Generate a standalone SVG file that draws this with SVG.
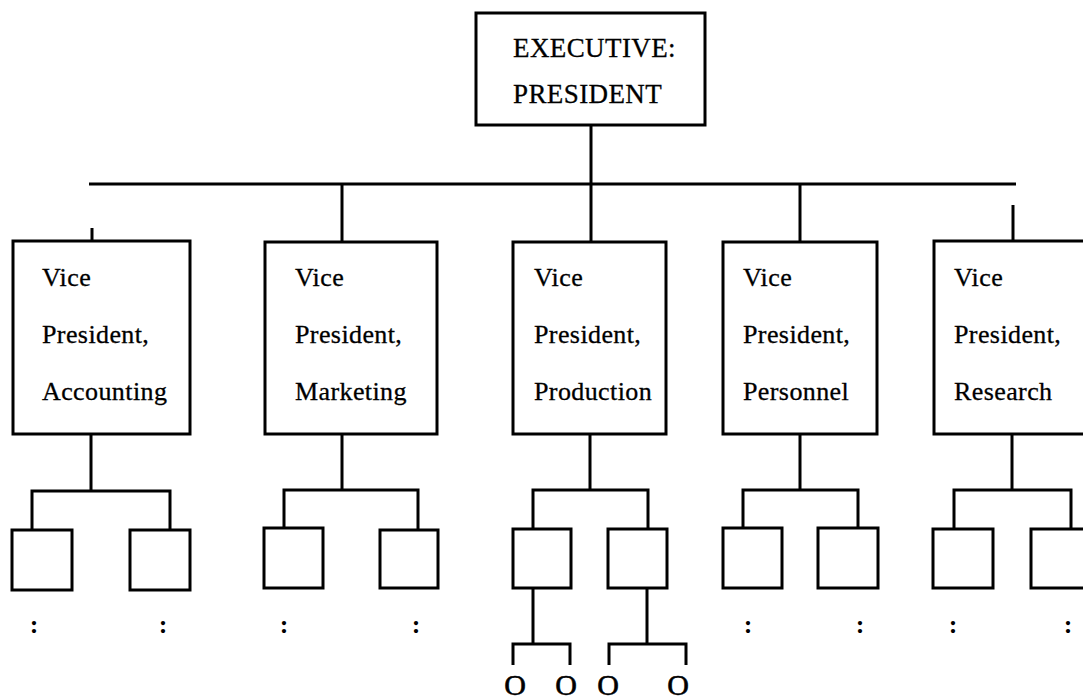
<svg xmlns="http://www.w3.org/2000/svg" width="1083" height="699" viewBox="0 0 1083 699">
  <style>
    .box { fill: #ffffff; stroke: #000000; stroke-width: 3; }
    .line { fill: none; stroke: #000000; stroke-width: 3; }
    .label { font-family: "Liberation Serif", "Times New Roman", serif; font-size: 26px; letter-spacing: 0.4px; fill: #000000; stroke: #000000; stroke-width: 0.3; }
    .head { font-family: "Liberation Serif", "Times New Roman", serif; font-size: 27px; letter-spacing: 0.4px; fill: #000000; stroke: #000000; stroke-width: 0.3; }
    .more { font-family: "Liberation Serif", "Times New Roman", serif; font-size: 26px; font-weight: bold; fill: #000000; text-anchor: middle; }
    .leaf { font-family: "Liberation Serif", "Times New Roman", serif; font-size: 30px; fill: #000000; stroke: #000000; stroke-width: 0.6; text-anchor: middle; }
  </style>
  <rect width="1083" height="699" fill="#ffffff"/>

  <!-- connectors -->
  <g id="connectors" class="line">
    <path d="M591 125 V242"/>
    <path d="M89 184 H1016"/>
    <path d="M92 228 V241"/>
    <path d="M342 184 V242"/>
    <path d="M800 184 V242"/>
    <path d="M1013 205 V241"/>
    <!-- accounting staff -->
    <path d="M91 434 V491 M32 530 V491 H170 V530"/>
    <!-- marketing staff -->
    <path d="M342 434 V490 M284 528 V490 H418 V530"/>
    <!-- production staff -->
    <path d="M590 434 V490 M533 529 V490 H648 V529"/>
    <path d="M533 588 V644 M513 665 V644 H570 V665"/>
    <path d="M647 588 V644 M609 665 V644 H686 V665"/>
    <!-- personnel staff -->
    <path d="M800 434 V490 M743 528 V490 H858 V528"/>
    <!-- research staff -->
    <path d="M1012 434 V490 M954 529 V490 H1071 V529"/>
  </g>

  <g id="executive-president">
    <rect class="box" x="476" y="13" width="229" height="112"/>
    <text class="head" x="513" y="57">EXECUTIVE:</text>
    <text class="head" x="513" y="103">PRESIDENT</text>
  </g>

  <g id="vp-accounting">
    <rect class="box" x="13" y="241" width="177" height="193"/>
    <text class="label" x="42" y="286">Vice</text>
    <text class="label" x="42" y="343">President,</text>
    <text class="label" x="42" y="400">Accounting</text>
  </g>
  <g id="vp-marketing">
    <rect class="box" x="265" y="242" width="172" height="192"/>
    <text class="label" x="295" y="286">Vice</text>
    <text class="label" x="295" y="343">President,</text>
    <text class="label" x="295" y="400">Marketing</text>
  </g>
  <g id="vp-production">
    <rect class="box" x="513" y="242" width="153" height="192"/>
    <text class="label" x="534" y="286">Vice</text>
    <text class="label" x="534" y="343">President,</text>
    <text class="label" x="534" y="400">Production</text>
  </g>
  <g id="vp-personnel">
    <rect class="box" x="723" y="242" width="154" height="192"/>
    <text class="label" x="743" y="286">Vice</text>
    <text class="label" x="743" y="343">President,</text>
    <text class="label" x="743" y="400">Personnel</text>
  </g>
  <g id="vp-research">
    <rect class="box" x="934" y="241" width="152" height="193"/>
    <text class="label" x="954" y="286">Vice</text>
    <text class="label" x="954" y="343">President,</text>
    <text class="label" x="954" y="400">Research</text>
  </g>

  <!-- staff units -->
  <g id="accounting-units">
    <rect class="box" x="12" y="530" width="60" height="60"/>
    <rect class="box" x="130" y="530" width="60" height="60"/>
    <text class="more" x="34" y="633">:</text>
    <text class="more" x="163" y="633">:</text>
  </g>
  <g id="marketing-units">
    <rect class="box" x="264" y="528" width="59" height="60"/>
    <rect class="box" x="380" y="530" width="58" height="58"/>
    <text class="more" x="284" y="633">:</text>
    <text class="more" x="416" y="633">:</text>
  </g>
  <g id="production-units">
    <rect class="box" x="513" y="529" width="58" height="59"/>
    <rect class="box" x="608" y="529" width="59" height="59"/>
    <text class="leaf" x="515" y="695">O</text>
    <text class="leaf" x="566" y="695">O</text>
    <text class="leaf" x="608" y="695">O</text>
    <text class="leaf" x="678" y="695">O</text>
  </g>
  <g id="personnel-units">
    <rect class="box" x="723" y="528" width="59" height="60"/>
    <rect class="box" x="818" y="528" width="60" height="60"/>
    <text class="more" x="748" y="633">:</text>
    <text class="more" x="860" y="633">:</text>
  </g>
  <g id="research-units">
    <rect class="box" x="933" y="529" width="60" height="59"/>
    <rect class="box" x="1031" y="529" width="60" height="59"/>
    <text class="more" x="953" y="633">:</text>
    <text class="more" x="1068" y="633">:</text>
  </g>
</svg>
